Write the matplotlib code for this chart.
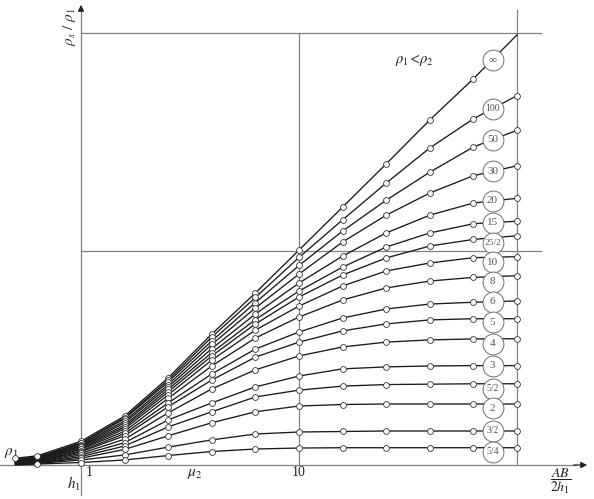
import numpy as np
import matplotlib
matplotlib.use("Agg")
import matplotlib.pyplot as plt

plt.rcParams['mathtext.fontset'] = 'stix'
plt.rcParams['font.family'] = ['Liberation Serif', 'DejaVu Serif']

# AB/2h1 sample positions (x axis)
x_ab = [0.5, 0.631, 1, 1.585, 2.512, 3.981, 6.31, 10, 15.85, 25.12, 39.81, 63.1, 100]

# curve labels (rho2/rho1)
curve_labels = ["∞", "100", "50", "30", "20", "15", "25/2", "10", "8", "6", "5", "4", "3", "5/2", "2", "3/2", "5/4"]

# rho_s/rho_1 values for each curve
rho_inf  = [1.12, 1.15, 1.34, 1.75, 2.62, 4.16, 6.42, 10.1, 15.9, 25.1, 39.9, 61.7, 98.0]
rho_100  = [1.11, 1.135, 1.32, 1.72, 2.56, 4.03, 6.12, 9.34, 13.9, 20.5, 29.7, 40.4, 51.6]
rho_50   = [1.106, 1.13, 1.31, 1.70, 2.51, 3.87, 5.80, 8.58, 12.35, 17.1, 23.0, 30.0, 35.8]
rho_30   = [1.10, 1.123, 1.295, 1.66, 2.44, 3.73, 5.48, 7.84, 11.0, 14.6, 18.45, 22.15, 24.6]
rho_20   = [1.094, 1.117, 1.28, 1.63, 2.38, 3.57, 5.14, 7.13, 9.48, 12.1, 14.6, 16.6, 17.45]
rho_15   = [1.088, 1.111, 1.27, 1.59, 2.32, 3.42, 4.85, 6.55, 8.44, 10.43, 12.1, 13.34, 13.7]
rho_12_5 = [1.088, 1.106, 1.255, 1.56, 2.26, 3.30, 4.63, 6.15, 7.76, 9.29, 10.54, 11.3, 11.75]
rho_10   = [1.082, 1.10, 1.24, 1.53, 2.19, 3.16, 4.34, 5.59, 6.91, 8.10, 8.81, 9.32, 9.42]
rho_8    = [1.077, 1.094, 1.23, 1.49, 2.11, 2.97, 3.99, 4.98, 5.96, 6.77, 7.28, 7.57, 7.70]
rho_6    = [1.077, 1.088, 1.21, 1.455, 2.01, 2.73, 3.55, 4.25, 4.93, 5.42, 5.71, 5.82, 5.90]
rho_5    = [1.071, 1.082, 1.20, 1.42, 1.93, 2.56, 3.26, 3.82, 4.30, 4.63, 4.83, 4.89, 4.89]
rho_4    = [1.065, 1.077, 1.18, 1.37, 1.81, 2.33, 2.85, 3.30, 3.63, 3.82, 3.91, 3.95, 3.96]
rho_3    = [1.060, 1.071, 1.16, 1.32, 1.68, 2.01, 2.38, 2.67, 2.88, 2.94, 2.97, 2.98, 2.98]
rho_2_5  = [1.054, 1.065, 1.14, 1.275, 1.56, 1.83, 2.14, 2.30, 2.40, 2.44, 2.45, 2.46, 2.46]
rho_2    = [1.054, 1.065, 1.12, 1.23, 1.42, 1.63, 1.83, 1.945, 1.976, 1.987, 1.987, 1.987, 1.987]
rho_1_5  = [1.049, 1.060, 1.10, 1.16, 1.26, 1.36, 1.447, 1.478, 1.486, 1.494, 1.494, 1.494, 1.494]
rho_1_25 = [1.043, 1.054, 1.071, 1.10, 1.153, 1.203, 1.235, 1.248, 1.252, 1.252, 1.252, 1.252, 1.252]

curves = [rho_inf, rho_100, rho_50, rho_30, rho_20, rho_15, rho_12_5, rho_10, rho_8,
          rho_6, rho_5, rho_4, rho_3, rho_2_5, rho_2, rho_1_5, rho_1_25]

# tick labels
xtick_labels = ["1", "10"]

# --- styling / layout ---
label_x = 77.2
label_dy = [0, 0, 0, 0, 0, 0, -3.5, -3.5, -3.5, 0, -2.5, -3.5, 0, -3.5, -3, 0, -3]

fig = plt.figure(figsize=(5.94, 4.99), dpi=100)
ax = fig.add_axes([0, 0, 1, 1])
ax.set_xscale('log')
ax.set_yscale('log')
k = np.log(10) / 218.0
ax.set_xlim(10 ** (-81 / 218), 10 ** (513 / 218))
ax.set_ylim(np.exp(-30 * k), np.exp(469 * k))
ax.axis('off')

gray = '#808080'
# frame / reference lines
y_axis_line = 1.043
ax.plot([1, 1], [np.exp(-26 * k), np.exp(460 * k)], color=gray, lw=0.9, zorder=1)
ax.annotate('', xy=(1, np.exp(467 * k)), xytext=(1, np.exp(455 * k)),
            arrowprops=dict(arrowstyle='-|>', color='#222222', lw=0.9,
                            mutation_scale=9), zorder=1)
ax.plot([10 ** (-81 / 218), 10 ** (495 / 218)],
        [y_axis_line, y_axis_line], color=gray, lw=0.9, zorder=1)
ax.annotate('', xy=(10 ** (509 / 218), y_axis_line), xytext=(10 ** (490 / 218), y_axis_line),
            arrowprops=dict(arrowstyle='-|>', color='#222222', lw=0.9,
                            mutation_scale=9), zorder=1)
ax.plot([1, 128.8], [100, 100], color=gray, lw=0.9, zorder=1)
ax.plot([1, 128.8], [10, 10], color=gray, lw=0.9, zorder=1)
ax.plot([10, 10], [y_axis_line, 100], color=gray, lw=0.9, zorder=1)
ax.plot([100, 100], [y_axis_line, 127.5], color=gray, lw=0.9, zorder=1)

xs = np.array(x_ab)
for i, vals in enumerate(curves):
    v = np.array(vals)
    ax.plot(xs, v, color='#1a1a1a', lw=0.95, zorder=3)
    mask = xs >= 1
    if i == 0:
        mask = xs < 99
    if i == len(curves) - 1:
        mask = xs > 0.6
    ax.plot(xs[mask], v[mask], linestyle='none', marker='o', ms=4.2,
            mfc='white', mec='#333333', mew=0.6, zorder=4)
    ly = np.exp(np.interp(np.log(label_x), np.log(xs), np.log(v)))
    lab = curve_labels[i]
    trans = ax.transData + matplotlib.transforms.ScaledTranslation(0, label_dy[i] / 72.0, fig.dpi_scale_trans)
    ax.plot([label_x], [ly], marker='o', ms=15, mfc='white', mec='#707070', mew=0.7,
            linestyle='none', transform=trans, zorder=6)
    ax.text(label_x, ly, lab, transform=trans, ha='center', va='center',
            fontsize=8 if len(lab) < 3 else (7 if len(lab) == 3 else 6.8),
            color='#555555', zorder=7)

# texts
ax.text(0.89, np.exp(442 * k), r'$\rho_s\ /\ \rho_1$', rotation=90, ha='center', va='center',
        fontsize=11, color='#333333')
ax.text(34.0, np.exp(409 * k), r'$\rho_1\!<\!\rho_2$', ha='center', va='center',
        fontsize=10.5, color='#222222')
ax.text(0.477, np.exp(16 * k), r'$\rho_1$', ha='center', va='center', fontsize=11, color='#222222')
ax.text(0.93, np.exp(-15 * k), r'$h_1$', ha='center', va='center', fontsize=11, color='#222222')
ax.text(1.09, np.exp(-3 * k), xtick_labels[0], ha='center', va='center', fontsize=10, color='#222222')
ax.text(10, np.exp(-3 * k), xtick_labels[1], ha='center', va='center', fontsize=10, color='#222222')
ax.text(3.33, np.exp(-5 * k), r'$\mu_2$', ha='center', va='center', fontsize=11, color='#222222')
ax.text(159, np.exp(-12 * k), r'$\dfrac{AB}{2h_1}$', ha='center', va='center', fontsize=10, color='#222222')

fig.savefig('out.png', dpi=100)
